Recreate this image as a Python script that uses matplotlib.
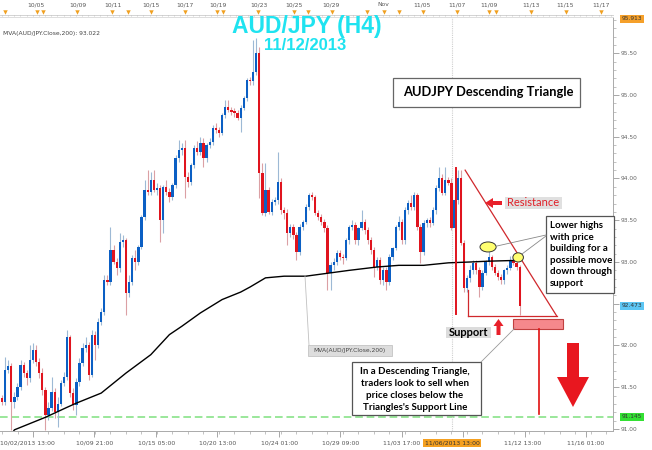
import numpy as np
import matplotlib
matplotlib.use("Agg")
import matplotlib.pyplot as plt
from matplotlib.patches import Ellipse, Polygon, Rectangle

# ---------------- data (AUD/JPY H4 candles) ----------------
opens = [
    91.37, 91.32, 91.71, 91.75, 91.32, 91.38, 91.50, 91.77, 91.67, 91.61,
    91.83, 91.95, 91.80, 91.67, 91.47, 91.17, 91.25, 91.44, 91.20, 91.30,
    91.55, 91.62, 92.10, 91.43, 91.29, 91.56, 91.79, 91.97, 92.01, 91.65,
    92.13, 92.01, 92.28, 92.40, 92.78, 92.76, 93.14, 93.00, 92.93, 93.24,
    93.26, 92.63, 92.76, 93.05, 93.00, 93.18, 93.54, 93.86, 93.84, 93.98,
    93.86, 93.89, 93.50, 93.90, 93.84, 93.78, 93.92, 94.25, 94.34, 94.37,
    94.02, 93.96, 94.16, 94.37, 94.32, 94.43, 94.25, 94.40, 94.44, 94.61,
    94.58, 94.55, 94.76, 94.86, 94.82, 94.80, 94.79, 94.73, 94.85, 94.96,
    95.18, 95.17, 95.28, 95.50, 94.07, 93.59, 93.86, 93.60, 93.72, 93.74,
    93.96, 93.62, 93.59, 93.35, 93.42, 93.32, 93.12, 93.42, 93.48, 93.66,
    93.80, 93.78, 93.59, 93.54, 93.48, 93.41, 92.87, 92.96, 93.00, 93.11,
    93.06, 93.05, 93.26, 93.42, 93.44, 93.26, 93.41, 93.48, 93.38, 93.26,
    93.14, 92.94, 93.02, 92.78, 92.90, 92.76, 93.06, 93.17, 93.42, 93.48,
    93.26, 93.62, 93.71, 93.66, 93.80, 93.42, 93.12, 93.47, 93.50, 93.47,
    93.62, 93.89, 94.01, 93.83, 93.98, 93.95, 93.41, 93.74, 94.01, 93.23,
    92.69, 92.81, 92.90, 92.99, 92.90, 92.70, 92.87, 93.00, 93.06, 92.94,
    92.87, 92.82, 92.78, 92.90, 92.93, 93.02, 92.99, 92.94,
]
closes = [
    91.32, 91.71, 91.75, 91.32, 91.38, 91.50, 91.77, 91.67, 91.61, 91.83,
    91.95, 91.80, 91.67, 91.47, 91.17, 91.25, 91.44, 91.20, 91.30, 91.55,
    91.62, 92.10, 91.43, 91.29, 91.56, 91.79, 91.97, 92.01, 91.65, 92.13,
    92.01, 92.28, 92.40, 92.78, 92.76, 93.14, 93.00, 92.93, 93.24, 93.26,
    92.63, 92.76, 93.05, 93.00, 93.18, 93.54, 93.86, 93.84, 93.98, 93.86,
    93.89, 93.50, 93.90, 93.84, 93.78, 93.92, 94.25, 94.34, 94.37, 94.02,
    93.96, 94.16, 94.37, 94.32, 94.43, 94.25, 94.40, 94.44, 94.61, 94.58,
    94.55, 94.76, 94.86, 94.82, 94.80, 94.79, 94.73, 94.85, 94.96, 95.18,
    95.17, 95.28, 95.50, 94.07, 93.59, 93.86, 93.60, 93.72, 93.74, 93.96,
    93.62, 93.59, 93.35, 93.42, 93.32, 93.12, 93.42, 93.48, 93.66, 93.80,
    93.78, 93.59, 93.54, 93.48, 93.41, 92.87, 92.96, 93.00, 93.11, 93.06,
    93.05, 93.26, 93.42, 93.44, 93.26, 93.41, 93.48, 93.38, 93.26, 93.14,
    92.94, 93.02, 92.78, 92.90, 92.76, 93.06, 93.17, 93.42, 93.48, 93.26,
    93.62, 93.71, 93.66, 93.80, 93.42, 93.12, 93.47, 93.50, 93.47, 93.62,
    93.89, 94.01, 93.83, 93.98, 93.95, 93.41, 93.74, 94.01, 93.23, 92.69,
    92.81, 92.90, 92.99, 92.90, 92.70, 92.87, 93.00, 93.06, 92.94, 92.87,
    92.82, 92.78, 92.90, 92.93, 93.02, 92.99, 92.94, 92.47,
]
highs = [
    91.41, 91.86, 91.83, 91.79, 91.44, 91.55, 91.83, 91.80, 91.71, 92.01,
    92.03, 92.00, 91.85, 91.73, 91.50, 91.32, 91.62, 91.49, 91.38, 91.59,
    91.68, 92.19, 92.13, 91.49, 91.61, 91.85, 92.03, 92.10, 92.04, 92.19,
    92.17, 92.33, 92.45, 92.84, 92.84, 93.42, 93.20, 93.05, 93.35, 93.32,
    93.29, 92.84, 93.08, 93.14, 93.20, 93.56, 93.98, 94.10, 94.08, 94.10,
    93.95, 93.92, 93.92, 93.98, 93.89, 93.95, 94.28, 94.46, 94.42, 94.46,
    94.08, 94.19, 94.40, 94.45, 94.50, 94.48, 94.43, 94.48, 94.64, 94.66,
    94.62, 94.79, 94.94, 94.94, 94.86, 94.84, 94.82, 94.88, 94.99, 95.20,
    95.22, 95.66, 95.68, 95.58, 94.19, 94.19, 93.90, 93.76, 93.78, 94.32,
    94.00, 93.66, 93.63, 93.46, 93.45, 93.36, 93.45, 93.50, 93.70, 93.83,
    93.84, 93.80, 93.62, 93.57, 93.52, 93.44, 93.00, 93.05, 93.14, 93.14,
    93.10, 93.29, 93.44, 93.50, 93.48, 93.42, 93.62, 93.52, 93.42, 93.30,
    93.18, 93.06, 93.06, 92.94, 92.94, 93.10, 93.18, 93.44, 93.55, 93.52,
    93.66, 93.74, 93.80, 93.84, 93.83, 93.46, 93.50, 93.53, 93.54, 93.66,
    93.92, 94.14, 94.05, 94.14, 94.02, 94.00, 93.78, 94.10, 94.10, 93.26,
    92.84, 92.96, 93.02, 93.02, 92.94, 92.90, 93.02, 93.20, 93.08, 92.98,
    92.90, 92.86, 92.92, 92.96, 93.07, 93.05, 93.11, 92.96,
]
lows = [
    91.29, 91.29, 91.67, 90.99, 91.25, 91.35, 91.47, 91.62, 91.53, 91.56,
    91.79, 91.75, 91.61, 91.41, 90.99, 91.11, 91.22, 91.13, 91.02, 91.27,
    91.52, 91.59, 91.38, 91.23, 91.17, 91.52, 91.75, 91.92, 91.59, 91.62,
    91.83, 91.97, 92.25, 92.37, 92.72, 92.72, 92.98, 92.84, 92.88, 93.18,
    92.37, 92.58, 92.72, 92.90, 92.96, 93.15, 93.50, 93.80, 93.80, 93.84,
    93.80, 93.24, 93.35, 93.80, 93.72, 93.74, 93.89, 94.20, 94.28, 93.77,
    93.90, 93.92, 94.12, 94.28, 94.28, 94.14, 94.20, 94.36, 94.40, 94.55,
    94.50, 94.52, 94.73, 94.80, 94.76, 94.74, 94.70, 94.56, 94.82, 94.93,
    95.12, 95.12, 95.24, 93.77, 93.56, 93.55, 93.58, 93.56, 93.68, 93.70,
    93.58, 93.52, 93.20, 93.30, 93.28, 93.02, 93.08, 93.38, 93.45, 93.62,
    93.74, 93.56, 93.50, 93.44, 93.36, 92.66, 92.66, 92.90, 92.96, 93.02,
    92.98, 93.02, 93.22, 93.38, 93.22, 93.20, 93.38, 93.34, 93.22, 93.10,
    92.82, 92.90, 92.74, 92.72, 92.66, 92.72, 93.02, 93.14, 93.38, 93.22,
    93.22, 93.58, 93.62, 93.62, 93.38, 92.99, 93.08, 93.42, 93.42, 93.44,
    93.58, 93.85, 93.80, 93.80, 93.92, 93.38, 93.36, 93.70, 93.20, 92.64,
    92.64, 92.76, 92.86, 92.86, 92.58, 92.66, 92.84, 92.96, 92.90, 92.84,
    92.78, 92.74, 92.74, 92.86, 92.90, 92.96, 92.90, 92.37,
]

# 200-period moving average, sampled at bar indices
ma_bars = [3, 4, 14, 21, 24, 32, 40, 48, 54, 58, 64, 71, 77, 80, 85, 91, 98,
           106, 112, 121, 128, 136, 144, 151, 157, 167]
ma_vals = [90.93, 90.99, 91.14, 91.26, 91.31, 91.43, 91.67, 91.89, 92.13, 92.23,
           92.39, 92.55, 92.64, 92.70, 92.81, 92.83, 92.83, 92.87, 92.90, 92.94,
           92.96, 92.96, 92.99, 93.00, 93.01, 93.02]

price_tick_values = [91.0, 91.5, 92.0, 92.5, 93.0, 93.5, 94.0, 94.5, 95.0, 95.5]
price_tick_labels = ["91.00", "91.50", "92.00", "", "93.00", "93.50", "94.00",
                     "94.50", "95.00", "95.50"]
marker_values = [95.913, 92.473, 91.145]
marker_labels = ["95.913", "92.473", "91.145"]
support_level = 92.35
resistance_start = (149.4, 94.10)
resistance_end = (179.0, 92.35)

bottom_labels = ["10/02/2013 13:00", "10/09 21:00", "10/15 05:00", "10/20 13:00",
                 "10/24 01:00", "10/29 09:00", "11/03 17:00", "11/12 13:00",
                 "11/16 01:00"]
cursor_label = "11/06/2013 13:00"
top_labels = ["10/05", "10/09", "10/11", "10/15", "10/17", "10/19", "10/23", "10/25",
              "10/29", "Nov", "11/05", "11/07", "11/09", "11/13", "11/15", "11/17"]

# ---------------- layout (pixels) ----------------
W, H = 652, 450
PX0, PXW = 2.0, 3.1          # pixel of bar 0, pixel per bar
def bar_at(px):
    return (px - PX0) / PXW

bottom_label_px = [27, 95, 157, 218, 280, 341, 402, 523, 586]
bottom_major_px = [33, 94.5, 156, 217.5, 279, 340.5, 402, 463.5, 525, 586.5]
top_label_px = [36, 78, 113, 151, 185, 218, 259, 294, 331, 383, 422, 457, 489,
                531, 565, 601]
top_marker_px = [5, 37, 43, 77, 112, 128, 151, 185, 217, 223, 258, 294, 308,
                 332, 367, 384, 399, 423, 457, 489, 496, 531, 566, 601]

BLUE, RED = "#0B5FC4", "#E0141E"
BLUE_W, RED_W = "#9DB9D5", "#DBA0A4"
GRAY_TXT = "#666666"
CYAN = "#1FE3F0"

fig = plt.figure(figsize=(W / 100, H / 100), dpi=100)
fig.patch.set_facecolor("white")
ax = fig.add_axes([0, 19 / H, 613 / W, 414 / H])

n = min(len(opens), len(closes), len(highs), len(lows))
o = np.array(opens[:n]); c = np.array(closes[:n])
hi = np.array(highs[:n]); lo = np.array(lows[:n])
idx = np.arange(n)
up = c >= o

ax.vlines(idx[up], lo[up], hi[up], colors=BLUE_W, lw=0.8, zorder=2)
ax.vlines(idx[~up], lo[~up], hi[~up], colors=RED_W, lw=0.8, zorder=2)
body = np.maximum(np.abs(c - o), 0.013)
ax.bar(idx[up], body[up], bottom=np.minimum(o, c)[up], width=0.72,
       color=BLUE, linewidth=0, zorder=3)
ax.bar(idx[~up], body[~up], bottom=np.minimum(o, c)[~up], width=0.72,
       color=RED, linewidth=0, zorder=3)

ax.plot(ma_bars, ma_vals, color="black", lw=1.0, zorder=4)

# green dashed level line
ax.axhline(marker_values[2], color="#7FE07F", lw=1.1, dashes=(5, 2.5), zorder=1)
# cursor dotted line
ax.axvline(bar_at(452), color="#cfcfcf", lw=0.8, ls=(0, (1, 1)), zorder=1)

# triangle drawing
tri_col = "#D0282C"
ax.plot([resistance_start[0], resistance_end[0]], [resistance_start[1], resistance_end[1]],
        color=tri_col, lw=0.9, zorder=5)
ax.plot([bar_at(468), resistance_end[0]], [support_level, support_level],
        color=tri_col, lw=0.9, zorder=5)
ax.plot([bar_at(468), bar_at(468)], [92.66, support_level], color=tri_col, lw=0.9, zorder=5)
ax.plot([bar_at(456), bar_at(456)], [92.38, 94.13], color=RED, lw=1.4, zorder=5)

# ellipses marking lower highs
ax.add_patch(Ellipse((156.8, 93.18), 5.2, 0.12, fc="#FFFF70", ec="#333333", lw=0.7, zorder=6))
ax.add_patch(Ellipse((166.5, 93.055), 3.4, 0.11, fc="#FFFF70", ec="#333333", lw=0.7, zorder=6))

ax.yaxis.tick_right()
ax.set_yticks(price_tick_values)
ax.set_yticklabels(price_tick_labels)
ax.set_yticks(np.arange(91.0, 95.95, 0.1), minor=True)
ax.tick_params(axis="y", which="major", length=4.3, width=0.6, color="#999999",
               pad=1.5, labelsize=4.2, labelcolor=GRAY_TXT)
ax.tick_params(axis="y", which="minor", length=2.2, width=0.5, color="#aaaaaa")
ax.set_xticks([bar_at(p) for p in bottom_major_px])
ax.set_xticklabels([])
ax.set_xticks(np.arange(bar_at(33) - 10, bar_at(610), 5), minor=True)
ax.tick_params(axis="x", which="major", length=4.3, width=0.6, color="#999999")
ax.tick_params(axis="x", which="minor", length=2.0, width=0.5, color="#aaaaaa")
# limits last, so tick setting cannot widen them
ax.set_xlim(bar_at(0), bar_at(613))
ax.set_ylim(90.976, 95.934)
ax.spines["left"].set_visible(False)
ax.spines["top"].set_color("#dddddd")
ax.spines["right"].set_color("#aaaaaa")
ax.spines["bottom"].set_color("#aaaaaa")
for s in ax.spines.values():
    s.set_linewidth(0.7)

mcolors = ["#F5A02A", "#5CC6F4", "#33E033"]
for v, lab, col in zip(marker_values, marker_labels, mcolors):
    ax.text(1 + 9 / 613, v, lab, transform=ax.get_yaxis_transform(), ha="left",
            va="center", fontsize=4.2, color="#333333",
            bbox=dict(boxstyle="square,pad=0.3", fc=col, ec="none"), clip_on=False)

# ---------------- overlay in pixel coordinates ----------------
ov = fig.add_axes([0, 0, 1, 1], zorder=10)
ov.set_xlim(0, W); ov.set_ylim(H, 0); ov.axis("off"); ov.patch.set_alpha(0)

# top date ruler
ov.plot([0, 613], [14.5, 14.5], color="#cccccc", lw=0.6)
ov.vlines(np.arange(2, 613, 6.15), 14.5, 16.3, colors="#bbbbbb", lw=0.5)
for p, t in zip(top_label_px, top_labels):
    ov.text(p, 5, t, ha="center", va="center", fontsize=4.3, color="#555555")
ov.plot(top_marker_px, [11.5] * len(top_marker_px), ls="none", marker="v",
        ms=3.2, color="#F0A020", mec="none")

# bottom date labels
for p, t in zip(bottom_label_px, bottom_labels):
    ov.text(p, 443, t, ha="center", va="center", fontsize=4.4, color="#555555")
ov.text(452, 443, cursor_label, ha="center", va="center", fontsize=4.4, color="#333333",
        bbox=dict(boxstyle="square,pad=0.25", fc="#F5A020", ec="none"))

# titles
ov.text(307, 26, "AUD/JPY (H4)", ha="center", va="center", fontsize=16.5,
        fontweight="bold", family="Liberation Sans", color=CYAN)
ov.text(305, 45, "11/12/2013", ha="center", va="center", fontsize=12,
        fontweight="bold", family="Liberation Sans", color=CYAN)
ov.text(3, 34, "MVA(AUD/JPY.Close,200): 93.022", ha="left", va="center",
        fontsize=4.3, color="#444444")

# pattern title box
ov.add_patch(Rectangle((393, 78), 187, 29, fc="white", ec="#666666", lw=0.9))
ov.text(403, 92.5, "AUDJPY Descending Triangle", ha="left", va="center",
        fontsize=9.3, fontweight="bold", family="Lato", color="black")

# resistance label + arrow
ov.add_patch(Rectangle((505, 197), 57, 11.5, fc="#e0e0e0", ec="none"))
ov.text(533.5, 203, "Resistance", ha="center", va="center", fontsize=8,
        family="Lato", color="#E02028")
ov.add_patch(Polygon([(485, 203), (493, 198), (493, 201), (502, 201), (502, 205),
                      (493, 205), (493, 208)], closed=True, fc="#E8202A", ec="none"))

# callout box
ov.add_patch(Rectangle((546, 216), 68, 77, fc="white", ec="#555555", lw=0.9))
callout = ["Lower highs", "with price", "building for a", "possible move",
           "down through", "support"]
for k, t in enumerate(callout):
    ov.text(550, 225.5 + 11.6 * k, t, ha="left", va="center", fontsize=7,
            fontweight="bold", family="Lato", color="black")
ov.plot([546, 497], [235, 246], color="#888888", lw=0.6)
ov.plot([546, 522], [236, 254], color="#888888", lw=0.6)

# support label + arrow
ov.add_patch(Rectangle((446, 327), 45, 10.5, fc="#dcdcdc", ec="none"))
ov.text(468.5, 332.5, "Support", ha="center", va="center", fontsize=8,
        fontweight="bold", family="Lato", color="black")
ov.add_patch(Polygon([(498.5, 319), (503.5, 326), (500.5, 326), (500.5, 335),
                      (496.5, 335), (496.5, 326), (493.5, 326)], closed=True,
                     fc="#E8202A", ec="none"))

# pink target box and projection line
ov.add_patch(Rectangle((513, 319), 50, 10, fc="#F5888C", ec="#C04040", lw=0.8))
ov.plot([539, 539], [329, 414], color="#E01010", lw=1.2)
ov.plot([515, 481], [328, 362], color="#999999", lw=0.6)

# big down arrow
ov.add_patch(Polygon([(567, 343), (579, 343), (579, 377), (589, 377), (573, 407),
                      (557, 377), (567, 377)], closed=True, fc="#E8171F", ec="none"))

# bottom explanation box
ov.add_patch(Rectangle((352, 362), 129, 53, fc="white", ec="#555555", lw=0.9))
expl = ["In a Descending Triangle,", "traders look to sell when",
        "price closes below the", "Triangles's Support Line"]
for k, t in enumerate(expl):
    ov.text(415, 371 + 12.3 * k, t, ha="center", va="center", fontsize=7,
            fontweight="bold", family="Lato", color="black")

# MVA label
ov.plot([305, 309], [276, 345], color="#c0c0c0", lw=0.6)
ov.add_patch(Rectangle((308, 345), 84, 11, fc="#dddddd", ec="#bbbbbb", lw=0.5))
ov.text(350, 350.5, "MVA(AUD/JPY.Close,200)", ha="center", va="center",
        fontsize=4.3, color="#444444")

fig.savefig("out.png", dpi=100, facecolor="white")
